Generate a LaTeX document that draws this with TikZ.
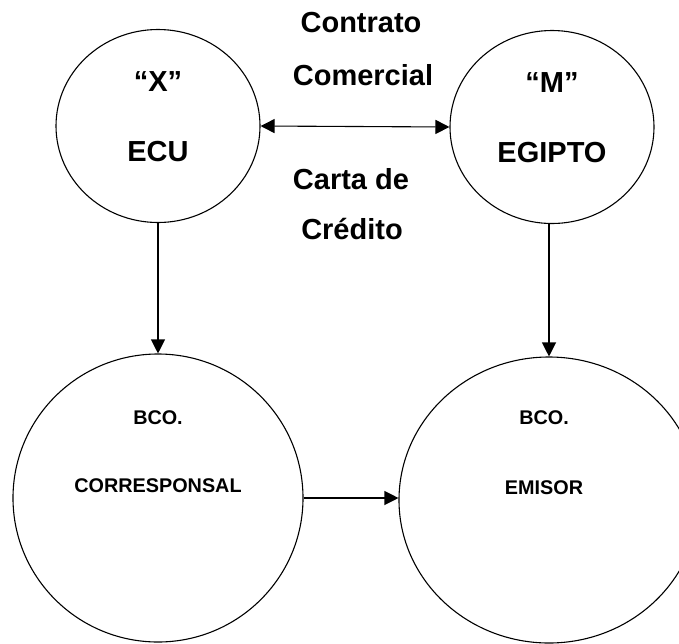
\documentclass[tikz,border=0pt]{standalone}
\usepackage{fontspec}
\setmainfont{Liberation Sans}
\usetikzlibrary{shapes.geometric,arrows.meta}
\tikzset{
  party/.style={draw, ellipse, line width=1.1pt, inner sep=0pt},
  bigtxt/.style={inner sep=0pt, font=\bfseries\fontsize{29}{34}\selectfont},
  smalltxt/.style={inner sep=0pt, font=\bfseries\fontsize{19.8}{24}\selectfont},
  conn/.style={line width=1.1pt, -{Triangle[length=14pt,width=14pt]}},
  dconn/.style={line width=1.1pt, {Triangle[length=14pt,width=14pt]}-{Triangle[length=14pt,width=14pt]}}
}
\begin{document}
\begin{tikzpicture}[x=1pt,y=-1pt]
\useasboundingbox (0,0) rectangle (679,643);
\clip (0,0) rectangle (679,643);
% circles
\node[party, minimum width=204pt, minimum height=193pt] (tl) at (158,126) {};
\node[party, minimum width=204pt, minimum height=193pt] (tr) at (552,127) {};
\node[party, minimum width=290pt, minimum height=288pt] (bl) at (158,498) {};
\node[party, minimum width=300pt, minimum height=286pt] (br) at (549,500) {};
% texts in circles
\node[bigtxt] (tx) at (158,82) {“X”};
\node[bigtxt] (te) at (158,152) {ECU};
\node[bigtxt] (tm) at (552,83) {“M”};
\node[bigtxt] (tg) at (552,153) {EGIPTO};
\node[smalltxt] (b1) at (158,418) {BCO.};
\node[smalltxt] (b2) at (158,486) {CORRESPONSAL};
\node[smalltxt] (b3) at (544,418) {BCO.};
\node[smalltxt] (b4) at (544,488) {EMISOR};
% middle labels
\node[bigtxt] (c1) at (361,23) {Contrato};
\node[bigtxt] (c2) at (363,75) {Comercial};
\node[bigtxt] (c3) at (351,179) {Carta de};
\node[bigtxt] (c4) at (352,229) {Crédito};
% connectors
\draw[dconn] (tl.east) -- (tr.west);
\draw[conn] (tl.south) -- (bl.north);
\draw[conn] (tr.south -| br.north) -- (br.north);
\draw[conn] (bl.east) -- (bl.east -| br.west);
\end{tikzpicture}
\end{document}
